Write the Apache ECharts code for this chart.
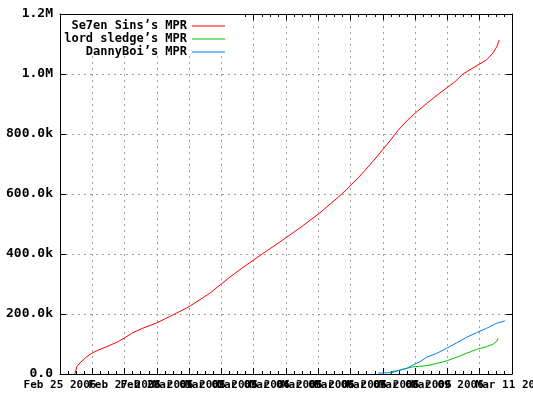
<!DOCTYPE html>
<html>
<head>
<meta charset="utf-8">
<script src="https://cdn.jsdelivr.net/npm/echarts@6/dist/echarts.min.js"></script>
<style>
html,body{margin:0;padding:0;background:#fff;}
#chart{width:533px;height:400px;}
</style>
</head>
<body>
<div id="chart"></div>
<script>
// x tick labels (one per major tick, index = day offset)
const xTickLabels = ['Feb 25 2006','Feb 26 2006','Feb 27 2006','Feb 28 2006','Mar 01 2006',
  'Mar 02 2006','Mar 03 2006','Mar 04 2006','Mar 05 2006','Mar 06 2006','Mar 07 2006',
  'Mar 08 2006','Mar 09 2006','Mar 10 2006','Mar 11 2006'];
const yTickLabels = ['0.0','200.0k','400.0k','600.0k','800.0k','1.0M','1.2M'];

// series: x = day offset from first tick, y = MPR
const sevenSinsX = [0.46,0.52,0.62,0.72,0.83,0.98,1.19,1.45,1.80,2.01,2.22,2.57,2.99,3.50,3.92,4.18,4.65,5.26,5.73,6.26,6.81,7.43,8.05,8.73,9.29,9.76,10.22,10.47,10.78,11.05,11.36,11.77,12.23,12.48,12.79,13.21,13.41,13.53,13.60];
const sevenSinsY = [0,24000,37000,47000,58000,69000,80000,91000,108000,121000,136000,153000,170000,197000,220000,237000,270000,323000,360000,400000,440000,487000,537000,600000,660000,717000,777000,812000,848000,874000,902000,937000,974000,1000000,1020000,1047000,1070000,1091000,1113000];

const lordSledgeX = [10.22,10.53,10.74,10.93,11.30,11.46,11.77,11.98,12.29,12.59,12.90,13.21,13.42,13.52,13.57];
const lordSledgeY = [2000,13000,19000,24000,27000,30000,38000,44000,56000,69000,82000,91000,100000,108000,119000];

const dannyBoiX = [9.85,10.16,10.37,10.53,10.74,10.93,11.15,11.36,11.67,11.98,12.29,12.59,12.90,13.21,13.52,13.78];
const dannyBoiY = [3000,4000,10000,13000,19000,30000,41000,56000,69000,86000,104000,122000,138000,152000,169000,177000];

const seriesNames = ["Se7en Sins’s MPR","lord sledge’s MPR","DannyBoi’s MPR"];
const seriesColors = ['#ff0000','#00c000','#0080ff'];

function pairs(xs, ys){ return xs.map((x,i)=>[x, ys[i]]); }
const seriesData = [pairs(sevenSinsX,sevenSinsY), pairs(lordSledgeX,lordSledgeY), pairs(dannyBoiX,dannyBoiY)];

const FONT = 'DejaVu Sans Mono';
const txt = {fontFamily: FONT, fontSize: 12, fontWeight: 'bold', color: '#000'};
const gridLine = {show:true, lineStyle:{color:'#a0a0a0', type:[2,4], width:1}};
// thin horizontal line icon; tiny corner dots fix the icon box to 33x12 (unique string per legend)
function lineIcon(i){ return 'path://M0,0H0.01V0.01H0Z M0,6H33V7H0Z M32.99,11.99H33V12H32.99Z M' + (10+i) + ',0H' + (10.01+i) + 'V0.01H' + (10+i) + 'Z'; }

const chart = echarts.init(document.getElementById('chart'), null, {renderer:'canvas'});

const baseX = {
  type:'value', min:0, max:14, interval:1,
  axisLine:{show:true, onZero:false, lineStyle:{color:'#000', width:1}},
  axisTick:{show:true, inside:true, length:6, lineStyle:{color:'#000'}},
  minorTick:{show:true, splitNumber:4, length:3, lineStyle:{color:'#000'}},
};
const baseY = {
  type:'value', min:0, max:1200000, interval:200000,
  axisLine:{show:true, onZero:false, lineStyle:{color:'#000', width:1}},
  axisTick:{show:true, inside:true, length:6, lineStyle:{color:'#000'}},
};

const legends = seriesNames.map((n,i)=>({
  id:'legend'+i,
  data:[{name:n, icon:lineIcon(i), itemStyle:{color:seriesColors[i], borderWidth:0, opacity:1}}],
  orient:'vertical', right:308, top: 19 + i*13, padding:0,
  align:'right', itemWidth:33, itemHeight:12, itemGap:0, z:6,
  textStyle: Object.assign({}, txt, {lineHeight:13}),
  selectedMode:false
}));

chart.setOption({
  animation:false,
  backgroundColor:'#fff',
  grid:{left:60, right:21, top:14, bottom:26, containLabel:false, outerBoundsMode:'none'},
  xAxis:[
    Object.assign({}, baseX, {
      position:'bottom',
      axisLabel:Object.assign({}, txt, {fontSize:11, margin:6, showMinLabel:true, showMaxLabel:true,
        hideOverlap:false, formatter:(v)=>xTickLabels[Math.round(v)] || ''}),
      splitLine:gridLine
    }),
    Object.assign({}, baseX, {position:'top', axisLabel:{show:false}, splitLine:{show:false}})
  ],
  yAxis:[
    Object.assign({}, baseY, {
      position:'left',
      axisLabel:Object.assign({}, txt, {fontSize:13, margin:7, showMinLabel:true, showMaxLabel:true,
        formatter:(v)=>yTickLabels[Math.round(v/200000)] || ''}),
      splitLine:gridLine
    }),
    Object.assign({}, baseY, {position:'right', axisLabel:{show:false}, splitLine:{show:false}})
  ],
  legend: legends,
  graphic:[{type:'rect', left:61, top:15, z:3, shape:{width:180, height:41}, style:{fill:'#fff'}}],
  series: seriesNames.map((n,i)=>({
    name:n, type:'line', xAxisIndex:0, yAxisIndex:0,
    data:seriesData[i], symbol:'none', showSymbol:false,
    lineStyle:{color:seriesColors[i], width:1}, itemStyle:{color:seriesColors[i]},
    z:2
  }))
});
</script>
</body>
</html>
